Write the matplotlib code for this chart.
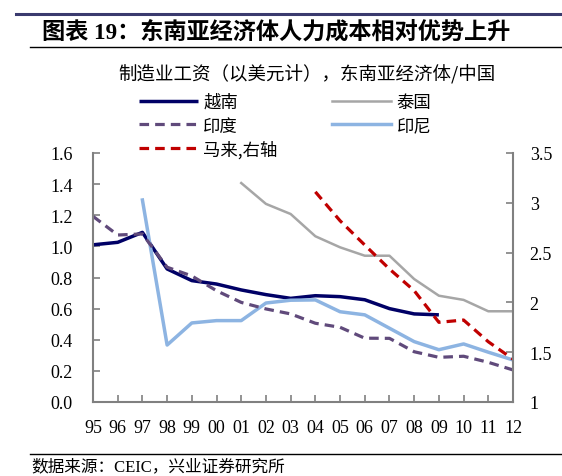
import numpy as np
import matplotlib
matplotlib.use("Agg")
import matplotlib.pyplot as plt
from matplotlib.lines import Line2D

nan = np.nan
years = ["95", "96", "97", "98", "99", "00", "01", "02", "03", "04",
         "05", "06", "07", "08", "09", "10", "11", "12"]
vietnam = [1.01, 1.026, 1.09, 0.855, 0.78, 0.758, 0.72, 0.69, 0.666, 0.683,
           0.677, 0.657, 0.60, 0.566, 0.56, nan, nan, nan]
india = [1.193, 1.073, 1.08, 0.866, 0.81, 0.715, 0.64, 0.598, 0.566, 0.506,
         0.48, 0.41, 0.409, 0.323, 0.287, 0.294, 0.255, 0.206]
thailand = [nan, nan, nan, nan, nan, nan, 1.407, 1.273, 1.208, 1.065,
            0.994, 0.94, 0.94, 0.79, 0.683, 0.656, 0.583, 0.583]
indonesia = [nan, nan, 1.298, 0.366, 0.508, 0.523, 0.523, 0.636, 0.654, 0.656,
             0.58, 0.56, 0.474, 0.388, 0.336, 0.373, 0.32, 0.27]
malaysia = [nan, nan, nan, nan, nan, nan, nan, nan, nan, 3.11,
            2.82, 2.576, 2.335, 2.118, 1.80, 1.823, 1.605, 1.43]

labels = ["越南", "印度", "马来,右轴", "泰国", "印尼"]
subtitle = "制造业工资（以美元计），东南亚经济体/中国"
title = "图表 19：东南亚经济体人力成本相对优势上升"
source = "数据来源：CEIC，兴业证券研究所"

FAM = ["Liberation Serif", "Noto Sans CJK SC", "DejaVu Sans"]
CJK = ["Noto Sans CJK SC", "Liberation Serif", "DejaVu Sans"]
plt.rcParams['font.family'] = FAM

W, H = 562, 477
fig = plt.figure(figsize=(W / 100, H / 100), dpi=100)
ax = fig.add_axes([93 / W, 1 - 403 / H, (513 - 93) / W, (403 - 154) / H])
ax2 = ax.twinx()

x = np.arange(len(years))
lw = 2.3
l_vn, = ax.plot(x, vietnam, color="#000066", lw=lw + 0.2, solid_capstyle="butt")
l_th, = ax.plot(x, thailand, color="#A6A6A6", lw=1.8)
l_id, = ax.plot(x, indonesia, color="#8DB4E2", lw=lw + 0.2)
l_in, = ax.plot(x, india, color="#604A7B", lw=lw, dashes=(3.0, 1.9))
l_my, = ax2.plot(x, malaysia, color="#C00000", lw=lw, dashes=(3.0, 1.9))

ax.set_xlim(0, 17)
ax.set_ylim(0, 1.6)
ax2.set_ylim(1, 3.5)
ax.set_xticks(x)
ax.set_xticklabels(years)
ax.set_yticks(np.arange(0, 1.61, 0.2))
ax.set_yticklabels([f"{v:.1f}" for v in np.arange(0, 1.61, 0.2)])
ax2.set_yticks([1, 1.5, 2, 2.5, 3, 3.5])
ax2.set_yticklabels(["1", "1.5", "2", "2.5", "3", "3.5"])

spine_c = "#808080"
for a in (ax, ax2):
    a.spines["top"].set_visible(False)
    for s in ("left", "right", "bottom"):
        a.spines[s].set_color(spine_c)
        a.spines[s].set_linewidth(1.5)
ax.spines["right"].set_visible(False)
ax2.spines["left"].set_visible(False)
ax2.spines["bottom"].set_visible(False)

ax.tick_params(axis="y", direction="in", length=5, width=1.2, color=spine_c,
               labelsize=13, pad=14.5)
ax.tick_params(axis="x", direction="in", length=5, width=1.2, color=spine_c,
               labelsize=13, pad=12.5)
ax2.tick_params(axis="y", direction="in", length=5, width=1.2, color=spine_c,
                labelsize=13, pad=12)

fig.legend([l_vn, l_in, l_my, l_th, l_id], labels, ncol=2,
           loc="upper left", bbox_to_anchor=(139 / W, 1 - 94 / H),
           frameon=False, prop={"family": CJK, "size": 12.5},
           handlelength=3.4, handletextpad=0.3, columnspacing=3.15,
           labelspacing=0.32, borderpad=0, borderaxespad=0)

fig.text(118 / W, 1 - 75 / H, subtitle, family=CJK, fontsize=13.3,
         va="center", ha="left")
fig.text(42 / W, 1 - 32 / H, title, family=FAM, fontsize=16.7,
         fontweight="bold", va="center", ha="left")
fig.text(31 / W, 1 - 467 / H, source, family=FAM, fontsize=12,
         va="center", ha="left")

fig.add_artist(Line2D([16 / W, 1], [1 - 15 / H] * 2, transform=fig.transFigure,
                      color="#3A3A6E", lw=2.2))
fig.add_artist(Line2D([30 / W, 1], [1 - 48 / H] * 2, transform=fig.transFigure,
                      color="black", lw=1.0))
fig.add_artist(Line2D([30 / W, 1], [1 - 455 / H] * 2, transform=fig.transFigure,
                      color="black", lw=1.0))

fig.savefig("out.png", dpi=100)
